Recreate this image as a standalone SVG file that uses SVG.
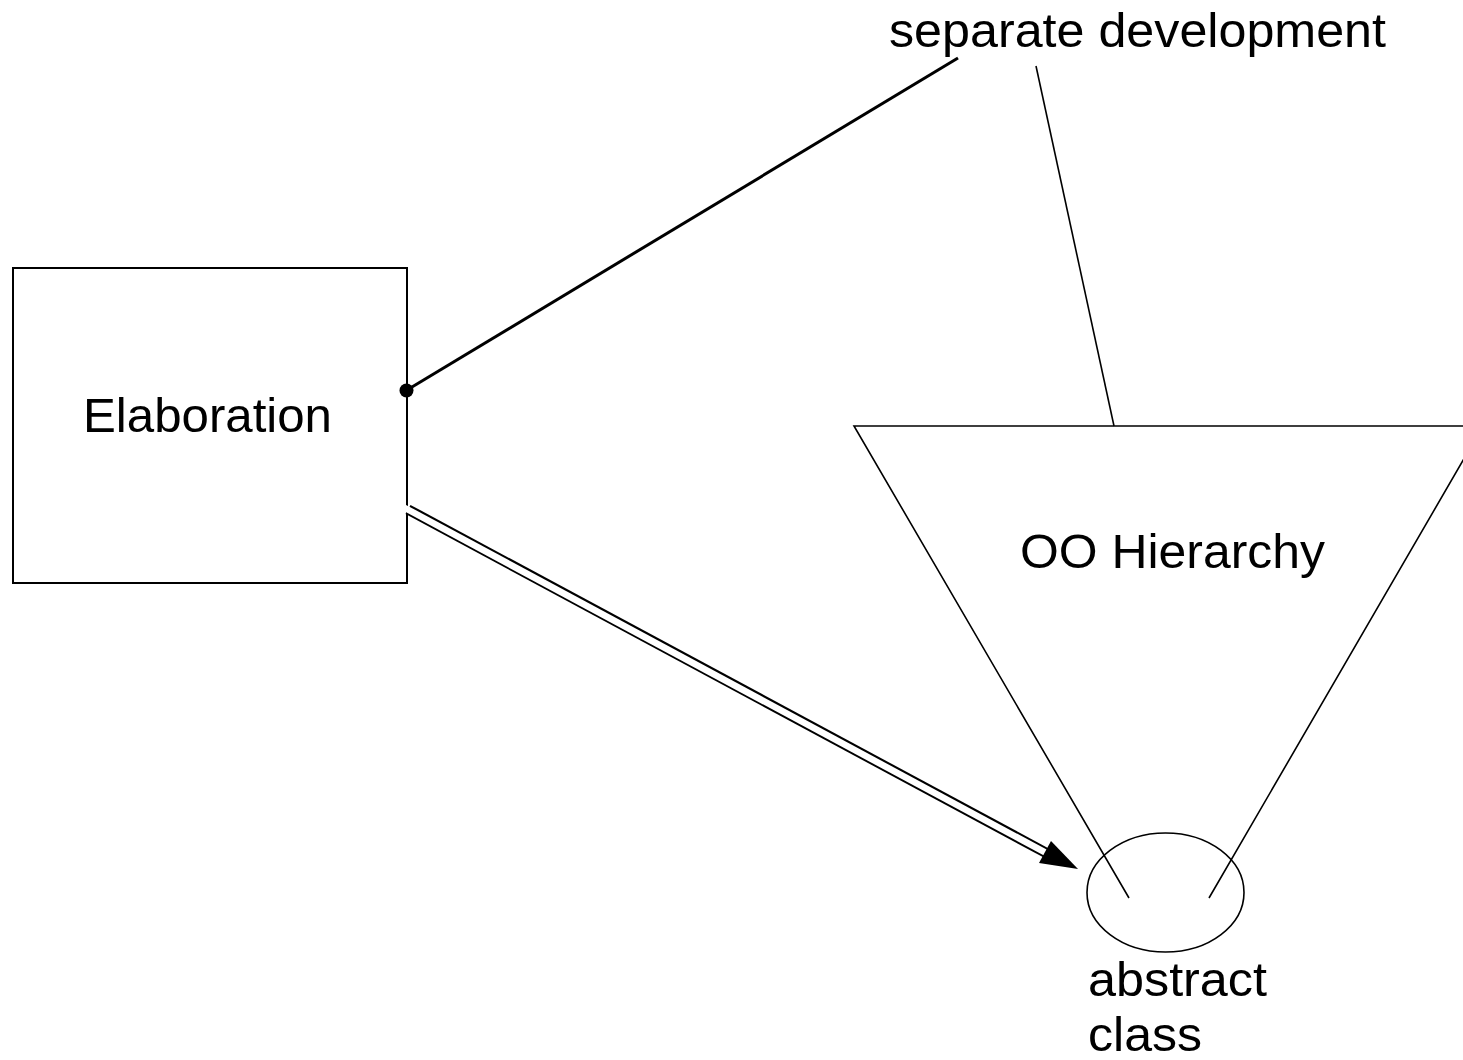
<svg xmlns="http://www.w3.org/2000/svg" width="1463" height="1060" viewBox="0 0 1463 1060">
  <style>
    .lbl { font-family: "Liberation Sans", Arial, sans-serif; font-size: 49px; fill: #000; }
    .thin { fill: none; stroke: #000; stroke-width: 1.6; }
    .box { fill: #fff; stroke: #000; stroke-width: 2; }
  </style>
  <rect width="1463" height="1060" fill="#fff"/>

  <!-- nodes -->
  <g id="elaboration">
    <rect class="box" x="13" y="268" width="394" height="315"/>
    <text class="lbl" x="83" y="432" textLength="249" lengthAdjust="spacingAndGlyphs">Elaboration</text>
  </g>

  <g id="oo-hierarchy">
    <path class="thin" d="M1129,898 L854,426 L1483,426 L1209,898"/>
    <text class="lbl" x="1020" y="568" textLength="305" lengthAdjust="spacingAndGlyphs">OO Hierarchy</text>
  </g>

  <g id="abstract-class">
    <ellipse class="thin" cx="1165.5" cy="892.5" rx="78.5" ry="59.5"/>
    <text class="lbl" x="1088" y="996" textLength="179" lengthAdjust="spacingAndGlyphs">abstract</text>
    <text class="lbl" x="1088" y="1051" textLength="114" lengthAdjust="spacingAndGlyphs">class</text>
  </g>

  <g id="separate-development">
    <text class="lbl" x="889" y="47" textLength="497" lengthAdjust="spacingAndGlyphs">separate development</text>
  </g>

  <!-- connectors -->
  <g id="connectors">
    <line x1="407" y1="390" x2="958" y2="58" stroke="#000" stroke-width="3"/>
    <circle cx="406.5" cy="390.5" r="7" fill="#000"/>
    <line class="thin" x1="1036" y1="66" x2="1114" y2="426"/>
    <!-- double-stroke arrow: black outline with white core -->
    <line x1="408" y1="509.5" x2="1050" y2="855" stroke="#000" stroke-width="10.5"/>
    <line x1="404" y1="507.5" x2="1053" y2="856.7" stroke="#fff" stroke-width="6.5"/>
    <path d="M1078,869 L1039,863 L1051,841 Z" fill="#000"/>
  </g>
</svg>
